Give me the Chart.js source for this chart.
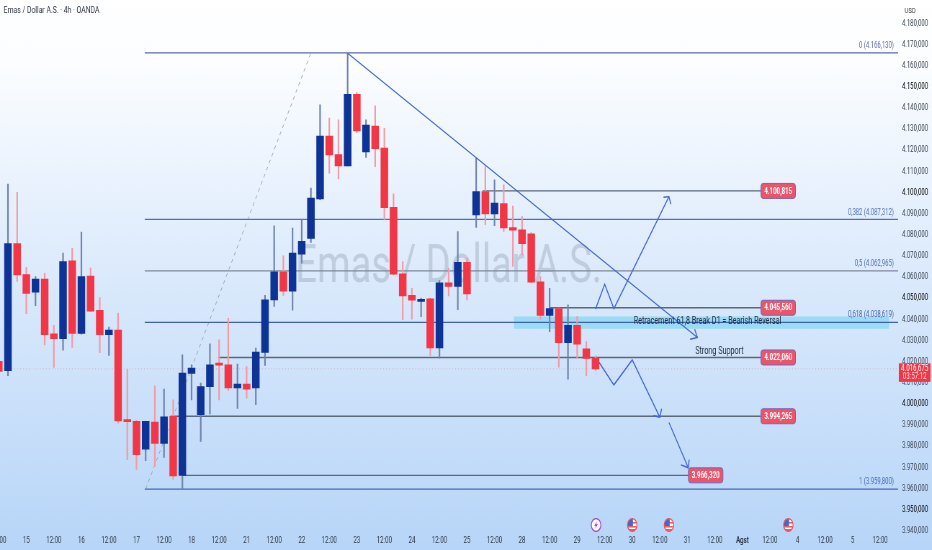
<!DOCTYPE html>
<html><head><meta charset="utf-8">
<script src="https://cdn.jsdelivr.net/npm/chart.js@4"></script>
<style>
html,body{margin:0;padding:0;width:932px;height:550px;overflow:hidden;background:#fff}
#wrap{width:932px;height:550px;overflow:hidden}
canvas{display:block;transform-origin:0 0;transform:scaleX(0.7202);filter:blur(0.3px)}
</style></head><body><div id="wrap"><canvas id="c" width="1294" height="550"></canvas></div>
<script>
const candleOpen=[4020.2,4015.8,4075.9,4061.3,4052.9,4059.1,4033.2,4030.9,4067.7,4033.4,4060.5,4044.4,4032.8,4035.0,3992.4,3991.8,3978.7,3991.5,3981.4,3994.2,3966.3,4014.5,3995.0,4008.3,4018.7,4018.6,4007.7,4009.5,4007.7,4024.4,4049.3,4062.5,4053.4,4070.9,4078.3,4097.0,4126.8,4118.0,4112.6,4146.5,4119.3,4131.5,4121.1,4093.1,4061.6,4051.4,4048.5,4049.8,4026.6,4057.3,4055.6,4067.0,4089.5,4100.5,4089.9,4094.8,4083.5,4082.4,4080.5,4057.8,4041.9,4045.2,4029.1,4037.2,4026.1,4021.7];
const candleClose=[4015.4,4075.9,4061.1,4052.3,4059.1,4032.8,4030.9,4067.4,4033.4,4060.3,4044.0,4032.8,4035.0,3992.0,3991.7,3976.1,3991.8,3981.4,3994.0,3966.0,4014.7,4017.0,4008.3,4018.6,4018.4,4007.7,4009.5,4007.1,4024.6,4049.3,4062.5,4053.4,4071.4,4077.0,4097.4,4126.8,4117.8,4112.6,4146.5,4129.2,4131.9,4120.8,4092.9,4061.4,4051.2,4049.1,4049.6,4026.6,4057.3,4055.6,4067.0,4052.1,4100.5,4089.9,4095.1,4083.3,4082.2,4075.9,4057.7,4041.9,4045.2,4029.1,4037.2,4028.4,4021.6,4016.675];
const candleHigh=[4020.2,4104.0,4100.2,4064.7,4060.3,4061.9,4037.2,4071.4,4073.7,4081.4,4064.3,4050.4,4036.4,4043.0,4016.5,3992.3,3991.8,4008.7,4007.1,4002.0,4023.3,4018.6,4009.9,4028.5,4030.4,4040.6,4018.9,4017.8,4026.5,4051.4,4084.3,4070.1,4083.2,4087.1,4102.1,4141.5,4135.2,4134.4,4166.13,4147.3,4134.4,4141.0,4130.4,4099.4,4067.4,4054.8,4050.1,4050.1,4058.4,4064.3,4081.6,4069.0,4116.3,4112.3,4106.0,4103.7,4093.7,4088.7,4081.1,4060.3,4054.8,4045.4,4046.9,4041.4,4029.6,4022.8];
const candleLow=[4015.4,4013.5,4058.0,4042.8,4046.6,4028.0,4017.3,4025.5,4026.8,4033.1,4043.8,4024.3,4023.0,3991.0,3973.7,3969.1,3973.2,3970.7,3974.8,3964.4,3959.8,4002.0,3982.4,3995.4,4002.0,4006.5,3998.0,4002.8,3999.7,4018.3,4046.2,4051.4,4044.4,4066.6,4076.4,4096.7,4109.2,4106.5,4112.6,4128.4,4116.7,4112.3,4087.1,4061.1,4039.9,4040.2,4041.4,4023.0,4021.7,4051.2,4044.6,4049.3,4083.6,4084.8,4084.4,4081.6,4065.1,4070.6,4057.5,4040.2,4034.3,4017.5,4011.8,4021.7,4013.5,4015.9];

const tickLabels=['12:00','15','12:00','16','12:00','17','12:00','18','12:00','21','12:00','22','12:00','23','12:00','24','12:00','25','12:00','28','12:00','29','12:00','30','12:00','31','12:00','Agst','12:00','4','12:00','5','12:00'];
const priceMin=3940, priceMax=4190, priceStep=10, lastPrice=4016.675;
const countdown='03:57:12', titleText='Emas / Dollar A.S. · 4h · OANDA', watermark='Emas / Dollar A.S.', currency='USD';

const fibValues=[4166.13,4087.312,4062.965,4038.619,3959.8];
const fibNames=['0','0,382','0,5','0,618','1'];
const fibColors=['#5f6ba6','#4f6fc4','#7f8a98','#3f62ad','#4668c0'];
const fibStart=15.9, chartEnd=97.96, fibLabelAt=97.5;

const levelValues=[4100.815,4045.56,4022.06,3994.265,3966.32];
const levelStart=[52.7,60,23.9,18.7,20];
const levelEnd=[83,83,83,83,75.2];
const pillAt=[84.9,84.9,84.9,84.9,77];

const fibDiagX=[16,34], fibDiagY=[3959.8,4166.13];
const trendX=[38,76.1], trendY=[4165.9,4031.5];
const trendHeadX=[75.3,76.1,75.8], trendHeadY=[4030.7,4031.5,4035.4];
const upX=[65,66,67,73], upY=[4044.9,4056.7,4045.2,4098.1];
const upHeadX=[72.4,73,73.2], upHeadY=[4097.8,4098.1,4094.5];
const downX=[65.4,67,69,72], downY=[4019.7,4009.1,4020.9,3993.8];
const downHeadX=[71.3,72,72.2], downHeadY=[3994.5,3993.8,3997.8];
const down2X=[73,75.1], down2Y=[3991.3,3969.9];
const down2HeadX=[74.3,75.1,75.2], down2HeadY=[3971.3,3969.9,3973.7];

const bandX=[56.1,97], bandTop=4041.4, bandBottom=4035.6;
const noteTexts=['Retracement 61,8 Break D1 = Bearish Reversal','Strong Support'];
const noteX=[77.2,78.5], noteY=[4038.9,4024.7];
const eventX=[65.06,69,73,86], eventKind=['bolt','us','us','us'];

const fmt=v=>v.toLocaleString('de-DE',{minimumFractionDigits:3,maximumFractionDigits:3});
const idx=candleOpen.map((_,i)=>i);
const up=idx.map(i=>candleClose[i]>=candleOpen[i]);
const line=(xs,ys,color,width,order,dash)=>({type:'line',data:xs.map((x,i)=>({x,y:ys[i]})),borderColor:color,borderWidth:width,pointRadius:0,tension:0,order,borderDash:dash||[],fill:false});

const datasets=[];
datasets.push({type:'line',data:bandX.map(x=>({x,y:bandTop})),borderWidth:0,borderColor:'rgba(0,0,0,0)',pointRadius:0,backgroundColor:'rgba(120,212,240,0.62)',fill:{value:bandBottom},order:3});
fibValues.forEach((v,i)=>datasets.push(line([fibStart,chartEnd],[v,v],fibColors[i],1.2,2)));
levelValues.forEach((v,i)=>datasets.push(line([levelStart[i],levelEnd[i]],[v,v],'#5d6878',1.4,2)));
datasets.push(line([0.13,chartEnd],[lastPrice,lastPrice],'rgba(225,130,140,0.55)',1,2,[1,3]));
datasets.push(line(fibDiagX,fibDiagY,'#9aa5b5',1,2,[4,4]));
datasets.push({type:'bar',data:idx.map(i=>({x:i,y:[candleLow[i],candleHigh[i]]})),backgroundColor:up.map(u=>u?'#6f83ad':'#f39aa3'),barThickness:1.5,grouped:false,order:1.5});
datasets.push({type:'bar',data:idx.map(i=>({x:i,y:[Math.min(candleOpen[i],candleClose[i]),Math.max(candleOpen[i],candleClose[i])]})),backgroundColor:up.map(u=>u?'#0d3396':'#f23645'),barThickness:9.8,minBarLength:2,grouped:false,order:1});
[[trendX,trendY],[trendHeadX,trendHeadY],[upX,upY],[upHeadX,upHeadY],[downX,downY],[downHeadX,downHeadY],[down2X,down2Y],[down2HeadX,down2HeadY]].forEach(p=>datasets.push(line(p[0],p[1],'#3f66cf',1.4,0)));

function roundRect(c,x,y,w,h,r){c.beginPath();c.roundRect(x,y,w,h,r);}
const decor={id:'decor',
 beforeDraw(ch){const c=ch.ctx,g=c.createLinearGradient(0,0,0,550);
  g.addColorStop(0,'#ffffff');g.addColorStop(0.12,'#fbfdff');g.addColorStop(0.5,'#dbeafc');g.addColorStop(1,'#b7d5f8');
  c.save();c.fillStyle=g;c.fillRect(0,0,ch.width,ch.height);c.restore();},
 beforeDatasetsDraw(ch){const c=ch.ctx,x=ch.scales.x,y=ch.scales.y;c.save();
  c.font='53px Roboto';c.fillStyle='rgba(105,118,140,0.26)';c.textAlign='center';c.textBaseline='middle';
  c.fillText(watermark,x.getPixelForValue(49),y.getPixelForValue(4063.8));c.restore();},
 afterDatasetsDraw(ch){const c=ch.ctx,x=ch.scales.x,y=ch.scales.y;c.save();
  c.textBaseline='middle';
  c.font='8.2px Roboto';c.textAlign='right';
  fibValues.forEach((v,i)=>{c.fillStyle=fibColors[i]=='#7f8a98'?'#4f6fb8':fibColors[i];
    c.fillText(fibNames[i]+' ('+fmt(v)+')',x.getPixelForValue(fibLabelAt),y.getPixelForValue(v)-7);});
  c.textAlign='center';c.fillStyle='#22303f';c.font='10px Roboto';
  noteTexts.forEach((t,i)=>c.fillText(t,x.getPixelForValue(noteX[i]),y.getPixelForValue(noteY[i])));
  levelValues.forEach((v,i)=>{const px=x.getPixelForValue(pillAt[i]),py=y.getPixelForValue(v);
    roundRect(c,px-24,py-7.5,48,15,3);c.fillStyle='#e9566c';c.fill();c.lineWidth=1;c.strokeStyle='#7a62b8';c.stroke();
    c.fillStyle='#fff';c.font='bold 8.5px Roboto';c.fillText(fmt(v),px,py+0.5);});
  eventX.forEach((e,i)=>{const px=x.getPixelForValue(e),py=525;
    c.beginPath();c.ellipse(px,py,6.6,6.3,0,0,Math.PI*2);c.fillStyle='#fff';c.fill();c.lineWidth=1.2;
    if(eventKind[i]==='bolt'){c.strokeStyle='#9a3fd0';c.stroke();c.fillStyle='#9a3fd0';
      c.beginPath();c.moveTo(px+1.5,py-4);c.lineTo(px-2.5,py+0.8);c.lineTo(px-0.2,py+0.8);c.lineTo(px-1.5,py+4);c.lineTo(px+2.5,py-0.8);c.lineTo(px+0.2,py-0.8);c.closePath();c.fill();}
    else{c.save();c.clip();c.fillStyle='#e9606c';c.fillRect(px-7,py+1,14,1.6);c.fillRect(px-7,py-3,14,1.6);c.fillRect(px-7,py+4,14,3);c.fillStyle='#4a67c0';c.fillRect(px-7,py-7,8,8);c.restore();
      c.beginPath();c.ellipse(px,py,6.6,6.3,0,0,Math.PI*2);c.strokeStyle='#e8505c';c.stroke();}
  });
  c.restore();},
 afterDraw(ch){const c=ch.ctx,y=ch.scales.y,a=ch.chartArea;c.save();
  c.fillStyle='#2b3340';c.font='9.5px Roboto';c.textAlign='left';c.textBaseline='middle';
  c.fillText(titleText,5,10.5);
  c.font='8px Roboto';c.fillStyle='#333';c.fillText(currency,a.right+9,10.5);
  const py=y.getPixelForValue(lastPrice);
  c.fillStyle='#f23645';c.fillRect(a.right+1,py-5.5,44,18.5);
  c.fillStyle='#fff';c.textAlign='center';c.font='8.6px Roboto';
  c.fillText(fmt(lastPrice),a.right+23,py-0.5);c.fillStyle='#ffd9dc';c.fillText(countdown,a.right+23,py+8);
  c.restore();}
};

new Chart(document.getElementById('c'),{type:'bar',plugins:[decor],
 data:{datasets},
 options:{responsive:false,animation:false,events:[],devicePixelRatio:1,
  layout:{padding:{top:2.3,left:0,right:0,bottom:0}},
  plugins:{legend:{display:false},title:{display:false},tooltip:{enabled:false}},
  scales:{
   x:{type:'linear',min:0.135,max:97.96,offset:false,grid:{display:false,drawTicks:false,tickLength:0},border:{display:false},
    afterBuildTicks(s){s.ticks=tickLabels.map((l,k)=>({value:k*3}));},
    afterFit(s){s.height=19;s.paddingLeft=0;s.paddingRight=0;},
    ticks:{autoSkip:false,maxRotation:0,minRotation:0,padding:5,color:'#2f3a48',
     font:c=>({family:'Roboto',size:8.5,weight:tickLabels[c.index]==='Agst'?'bold':'normal'}),
     callback:(v,i)=>tickLabels[i]}},
   y:{type:'linear',position:'right',min:priceMin,max:priceMax,grid:{display:false,drawTicks:false,tickLength:0},border:{display:false},
    afterBuildTicks(s){s.ticks=s.ticks.filter(t=>t.value<=4180);},
    afterFit(s){s.width=47;s.paddingTop=0;s.paddingBottom=0;},
    ticks:{stepSize:priceStep,padding:5.5,
     color:c=>(c.tick&&c.tick.value%50===0)?'#000':'#3a4350',
     font:{family:'Roboto',size:8.2},
     callback:v=>fmt(v)}}
  }}});
</script></body></html>
